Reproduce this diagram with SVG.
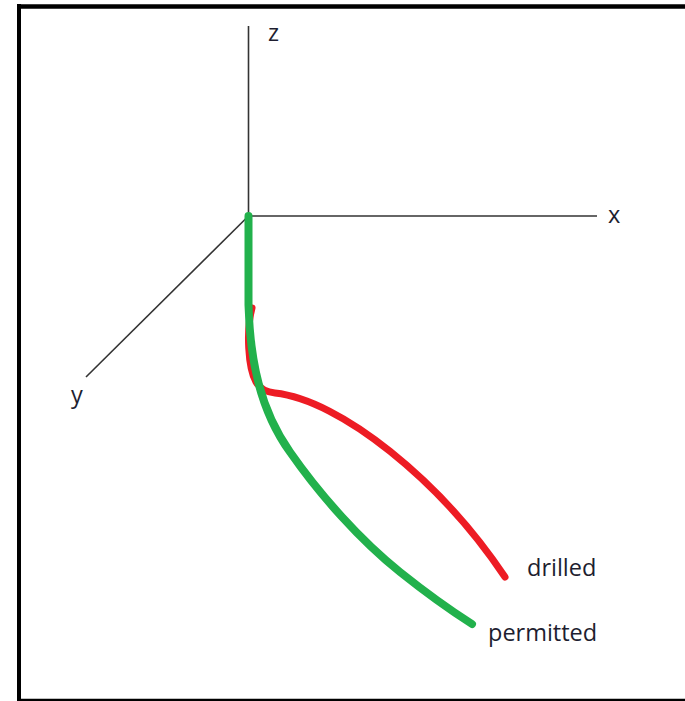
<svg xmlns="http://www.w3.org/2000/svg" width="685" height="701" viewBox="0 0 685 701">
<style>
.axis{stroke:#333;stroke-width:1.6;fill:none}
.lbl{font-family:"Open Sans","Noto Sans",sans-serif;font-size:23.5px;fill:#1e1e30}
.curve{fill:none;stroke-linecap:round;stroke-linejoin:round}
</style>
<rect x="0" y="0" width="685" height="701" fill="#fff"/>
<g id="frame">
<line x1="17" y1="6.5" x2="685" y2="6.5" stroke="#000" stroke-width="4.5"/>
<line x1="19" y1="4" x2="19" y2="701" stroke="#000" stroke-width="4"/>
<line x1="17" y1="700" x2="685" y2="700" stroke="#000" stroke-width="2.5"/>
</g>
<g id="axes">
<g id="axis-z"><line class="axis" x1="248.5" y1="26" x2="248.5" y2="216"/><text class="lbl" x="268" y="41">z</text></g>
<g id="axis-x"><line class="axis" x1="248.5" y1="216" x2="597" y2="216"/><text class="lbl" x="608" y="223">x</text></g>
<g id="axis-y"><line class="axis" x1="248.5" y1="216" x2="86" y2="377"/><text class="lbl" x="71" y="403">y</text></g>
</g>
<g id="curves">
<g id="drilled">
<path class="curve" stroke="#ED1C24" stroke-width="7" d="M252,308 C246,330 248,368 256,382 Q262,392 275,393 C340,400 440,480 505,577"/>
<text class="lbl" x="527" y="576">drilled</text>
</g>
<g id="permitted">
<path class="curve" stroke="#22B14C" stroke-width="8" d="M248.5,216 L248.5,305 C250,360 260,410 290,452 C320,495 360,540 400,572 C425,592 450,610 472,624"/>
<text class="lbl" x="488" y="641">permitted</text>
</g>
</g>
</svg>
